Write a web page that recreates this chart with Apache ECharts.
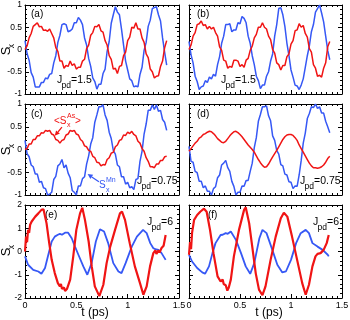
<!DOCTYPE html>
<html>
<head>
<meta charset="utf-8">
<script src="https://cdn.jsdelivr.net/npm/echarts@6/dist/echarts.min.js"></script>
<style>
html, body { margin: 0; padding: 0; background: #fff; }
#main { width: 350px; height: 320px; }
</style>
</head>
<body>
<div id="main"></div>
<script>
// shared time grid (ps) for panels (a)-(d)
var tGrid = [0,0.02,0.04,0.06,0.08,0.10,0.12,0.14,0.16,0.18,0.20,0.22,0.24,0.26,0.28,0.30,0.32,0.34,0.36,0.38,
  0.40,0.42,0.44,0.46,0.48,0.50,0.52,0.54,0.56,0.58,0.60,0.62,0.64,0.66,0.68,0.70,0.72,0.74,0.76,0.78,
  0.80,0.82,0.84,0.86,0.88,0.90,0.92,0.94,0.96,0.98,1.00,1.02,1.04,1.06,1.08,1.10,1.12,1.14,1.16,1.18,
  1.20,1.22,1.24,1.26,1.28,1.30,1.32,1.34,1.36,1.38];

// (a) Jpd = 1.5
var redA = [0,0.08,0.26,0.36,0.52,0.56,0.6,0.51,0.52,0.43,0.44,0.41,0.46,0.36,0.26,0.04,-0.04,-0.26,-0.26,-0.42,
  -0.36,-0.38,-0.26,-0.36,-0.32,-0.44,-0.4,-0.4,-0.26,-0.22,0.02,0.1,0.32,0.38,0.52,0.51,0.56,0.42,0.39,0.2,
  0.1,-0.14,-0.22,-0.44,-0.42,-0.54,-0.38,-0.36,-0.14,-0.06,0.2,0.28,0.5,0.48,0.6,0.46,0.46,0.26,0.16,-0.1,
  -0.18,-0.44,-0.5,-0.64,-0.6,-0.59,-0.38,-0.26,0.04,0.2];
var blueA = [0.2,-0.09,-0.24,-0.52,-0.62,-0.84,-0.84,-0.84,-0.74,-0.74,-0.64,-0.66,-0.56,-0.54,-0.3,-0.14,0.16,0.32,0.56,0.58,
  0.56,0.4,0.42,0.46,0.6,0.6,0.72,0.66,0.56,0.26,0.1,-0.2,-0.38,-0.64,-0.72,-0.89,-0.78,-0.78,-0.54,-0.44,
  -0.04,0.18,0.59,0.78,0.96,0.84,0.78,0.46,0.1,-0.26,-0.46,-0.66,-0.7,-0.84,-0.82,-0.84,-0.56,-0.4,-0.02,0.16,
  0.52,0.66,0.92,0.94,0.96,0.78,0.64,0.26,-0.06,-0.35];

// (b) Jpd = 1.5
var redB = [0,0.1,0.3,0.38,0.56,0.58,0.64,0.54,0.56,0.46,0.52,0.46,0.5,0.38,0.3,0.06,-0.02,-0.24,-0.26,-0.42,
  -0.38,-0.4,-0.24,-0.24,-0.26,-0.38,-0.34,-0.4,-0.24,-0.2,-0.02,0.08,0.26,0.34,0.5,0.5,0.6,0.5,0.46,0.3,
  0.22,0,-0.08,-0.3,-0.34,-0.46,-0.36,-0.36,-0.16,-0.1,0.12,0.2,0.42,0.44,0.58,0.5,0.54,0.36,0.28,0.02,
  -0.06,-0.34,-0.42,-0.6,-0.58,-0.62,-0.42,-0.3,0.06,0.18];
var blueB = [0.18,-0.12,-0.3,-0.6,-0.72,-0.9,-0.84,-0.82,-0.7,-0.74,-0.62,-0.66,-0.56,-0.6,-0.34,-0.16,0.14,0.3,0.56,0.56,
  0.58,0.4,0.44,0.44,0.6,0.58,0.74,0.7,0.6,0.3,0.14,-0.14,-0.34,-0.6,-0.7,-0.88,-0.8,-0.8,-0.6,-0.5,
  -0.26,-0.1,0.3,0.56,0.92,0.94,0.78,0.52,0.14,-0.14,-0.46,-0.62,-0.8,-0.82,-0.9,-0.8,-0.66,-0.4,-0.14,0.08,
  0.4,0.56,0.84,0.92,1.0,0.82,0.62,0.3,-0.02,-0.23];

// (c) Jpd = 0.75
var redC = [0,0.02,0.12,0.12,0.22,0.22,0.3,0.3,0.37,0.36,0.42,0.4,0.42,0.34,0.32,0.22,0.2,0.14,0.2,0.22,
  0.32,0.34,0.42,0.4,0.42,0.34,0.32,0.22,0.18,0.08,0.06,-0.02,-0.04,-0.15,-0.18,-0.28,-0.29,-0.36,-0.33,-0.34,
  -0.22,-0.18,-0.08,-0.06,0.06,0.1,0.2,0.22,0.32,0.31,0.38,0.35,0.4,0.33,0.3,0.18,0.14,0.02,-0.04,-0.18,
  -0.26,-0.38,-0.38,-0.4,-0.32,-0.32,-0.24,-0.24,-0.16,-0.15];
var blueC = [0.2,-0.09,-0.16,-0.34,-0.38,-0.54,-0.54,-0.72,-0.7,-0.84,-0.86,-1.0,-0.98,-0.94,-0.66,-0.59,-0.36,-0.32,-0.22,-0.4,
  -0.34,-0.52,-0.62,-0.9,-0.94,-1.0,-0.8,-0.8,-0.64,-0.6,-0.32,-0.14,0.12,0.26,0.6,0.76,0.94,0.94,0.98,0.76,
  0.64,0.38,0.24,-0.02,-0.1,-0.34,-0.38,-0.6,-0.6,-0.76,-0.72,-0.84,-0.82,-0.88,-0.66,-0.64,-0.26,-0.04,0.34,0.56,
  0.86,0.86,0.98,0.88,0.98,0.84,0.86,0.66,0.6,0.42];

// (d) Jpd = 0.75
var redD = [-0.04,0.02,0.08,0.14,0.18,0.25,0.28,0.33,0.35,0.38,0.4,0.39,0.35,0.3,0.24,0.2,0.16,0.15,0.18,0.24,
  0.3,0.35,0.39,0.4,0.37,0.33,0.28,0.22,0.16,0.1,0.05,0,-0.06,-0.14,-0.22,-0.29,-0.35,-0.39,-0.38,-0.32,
  -0.24,-0.16,-0.09,-0.02,0.06,0.14,0.22,0.28,0.32,0.33,0.33,0.31,0.26,0.2,0.1,0.02,-0.06,-0.14,-0.22,-0.3,
  -0.36,-0.4,-0.4,-0.41,-0.4,-0.38,-0.34,-0.28,-0.2,-0.15];
var blueD = [0.07,-0.26,-0.28,-0.48,-0.51,-0.7,-0.7,-0.84,-0.8,-0.92,-0.92,-1.0,-0.86,-0.82,-0.62,-0.56,-0.34,-0.3,-0.24,-0.4,
  -0.48,-0.7,-0.81,-1.0,-0.94,-0.94,-0.8,-0.81,-0.68,-0.68,-0.48,-0.3,0.04,0.26,0.62,0.77,0.94,0.94,0.96,0.74,
  0.63,0.3,0.2,-0.02,-0.1,-0.33,-0.36,-0.54,-0.56,-0.71,-0.72,-0.86,-0.8,-0.81,-0.56,-0.24,0.14,0.36,0.68,0.79,
  0.94,0.92,1.0,0.9,0.94,0.8,0.8,0.62,0.5,0.37];

// (e) Jpd = 6, [t, Sx]
var redE = [[0,0],[0.01,0.64],[0.02,0.4],[0.03,0.93],[0.04,0.8],[0.05,1.15],[0.065,1.29],[0.08,1.35],[0.1,1.5],[0.13,1.64],
  [0.16,1.79],[0.18,1.82],[0.21,1.21],[0.236,0.36],[0.26,-0.36],[0.29,-0.93],[0.32,-1.36],[0.34,-1.5],[0.35,-1.4],[0.36,-1.6],
  [0.38,-1.55],[0.39,-1.7],[0.41,-1.6],[0.42,-1.68],[0.44,-1.21],[0.47,-0.21],[0.5,0.93],[0.536,1.64],[0.558,1.88],[0.584,1.36],
  [0.62,0.43],[0.65,-0.64],[0.68,-1.5],[0.724,-1.92],[0.763,-1.43],[0.795,-0.5],[0.83,0.21],[0.877,0.93],[0.925,1.64],[0.945,1.72],
  [0.974,1.36],[1.02,0.36],[1.07,-0.64],[1.12,-1.36],[1.153,-1.86],[1.185,-1.5],[1.218,-0.64],[1.25,-0.07],[1.27,0.05],[1.28,-0.1],
  [1.3,0.05],[1.31,-0.05],[1.33,0.15],[1.35,0.25],[1.37,0.71]];
var blueE = [[0,-0.21],[0.03,-0.57],[0.08,-0.79],[0.13,-0.86],[0.16,-0.96],[0.195,-0.71],[0.227,-0.14],[0.26,0.43],[0.29,0.64],[0.32,0.72],
  [0.34,0.76],[0.36,0.72],[0.39,0.81],[0.42,0.81],[0.455,0.57],[0.487,0.21],[0.52,-0.14],[0.568,-0.64],[0.607,-1.0],[0.649,-0.5],
  [0.69,0.43],[0.73,0.96],[0.77,0.86],[0.81,0.36],[0.86,-0.5],[0.91,-0.86],[0.94,-0.93],[0.98,-0.5],[1.04,0.21],[1.09,0.64],
  [1.15,0.93],[1.185,0.79],[1.22,0.36],[1.25,0.14],[1.27,0.1],[1.3,0.07],[1.33,-0.07],[1.37,-0.36]];

// (f) Jpd = 6, [t, Sx]
var redF = [[0,-0.14],[0.01,0.4],[0.02,0.1],[0.03,0.8],[0.05,1.36],[0.08,1.57],[0.11,1.71],[0.147,1.84],[0.173,1.71],[0.206,0.93],
  [0.24,-0.07],[0.28,-1.07],[0.31,-1.29],[0.33,-1.2],[0.34,-1.4],[0.36,-1.45],[0.376,-1.68],[0.39,-1.55],[0.41,-1.21],[0.44,-0.21],
  [0.49,0.93],[0.54,1.79],[0.556,1.9],[0.59,1.21],[0.62,0.21],[0.654,-0.93],[0.686,-1.64],[0.72,-1.88],[0.75,-1.5],[0.8,-0.36],
  [0.85,0.64],[0.9,1.43],[0.93,1.67],[0.964,1.5],[1.01,0.64],[1.06,-0.36],[1.11,-1.36],[1.144,-1.86],[1.176,-1.43],[1.21,-0.64],
  [1.24,-0.21],[1.26,-0.1],[1.29,-0.07],[1.32,0.07],[1.35,0.36],[1.37,0.71]];
var blueF = [[0,-0.14],[0.03,-0.43],[0.08,-0.71],[0.13,-0.9],[0.157,-0.96],[0.196,-0.64],[0.23,-0.07],[0.26,0.36],[0.31,0.71],[0.33,0.72],
  [0.36,0.79],[0.38,0.76],[0.41,0.86],[0.46,0.5],[0.51,-0.07],[0.556,-0.64],[0.6,-0.96],[0.64,-0.5],[0.69,0.57],[0.72,0.93],
  [0.76,0.79],[0.817,0.07],[0.866,-0.57],[0.915,-0.9],[0.95,-0.86],[1.0,-0.36],[1.05,0.36],[1.095,0.79],[1.144,0.93],[1.176,0.79],
  [1.21,0.36],[1.26,0.21],[1.31,0.07],[1.36,-0.14],[1.37,-0.21]];

var RED = '#f01414';
var BLUE = '#3658f5';
var FONT = '"Liberation Sans", Arial, sans-serif';

function onGrid(vals) {
  return tGrid.map(function (t, i) { return [t, vals[i]]; });
}

var panels = [
  { left: 25,  top: 5,   width: 154, height: 89, yMax: 1, yInt: 0.5, red: onGrid(redA), blue: onGrid(blueA), yLab: true,  xLab: false, w: 1.5 },
  { left: 189, top: 5,   width: 153, height: 89, yMax: 1, yInt: 0.5, red: onGrid(redB), blue: onGrid(blueB), yLab: false, xLab: false, w: 1.5 },
  { left: 25,  top: 104, width: 154, height: 91, yMax: 1, yInt: 0.5, red: onGrid(redC), blue: onGrid(blueC), yLab: true,  xLab: false, w: 1.5 },
  { left: 189, top: 104, width: 153, height: 91, yMax: 1, yInt: 0.5, red: onGrid(redD), blue: onGrid(blueD), yLab: false, xLab: false, w: 1.5 },
  { left: 25,  top: 205, width: 154, height: 93, yMax: 2, yInt: 1,   red: redE, blue: blueE, yLab: true,  xLab: true, w: 2.2 },
  { left: 189, top: 205, width: 153, height: 93, yMax: 2, yInt: 1,   red: redF, blue: blueF, yLab: false, xLab: true, w: 2.2 }
];

var grids = [], xAxes = [], yAxes = [], series = [];
var black = { color: '#000', width: 1 };

panels.forEach(function (p, i) {
  grids.push({ left: p.left, top: p.top, width: p.width, height: p.height, containLabel: false, outerBoundsMode: 'none' });
  ['bottom', 'top'].forEach(function (pos) {
    xAxes.push({
      gridIndex: i, type: 'value', position: pos, min: 0, max: 1.5, interval: 0.5,
      axisLine: { show: true, onZero: false, lineStyle: black },
      axisTick: { show: true, inside: true, length: 4, lineStyle: black },
      minorTick: { show: true, splitNumber: 10, length: 2, lineStyle: black },
      splitLine: { show: false },
      axisLabel: { show: pos === 'bottom' && p.xLab, color: '#000', fontSize: 9, fontFamily: FONT, margin: 3,
        showMinLabel: true, showMaxLabel: true }
    });
  });
  ['left', 'right'].forEach(function (pos) {
    yAxes.push({
      gridIndex: i, type: 'value', position: pos, min: -p.yMax, max: p.yMax, interval: p.yInt,
      axisLine: { show: true, onZero: false, lineStyle: black },
      axisTick: { show: true, inside: true, length: 4, lineStyle: black },
      minorTick: { show: true, splitNumber: 5, length: 2, lineStyle: black },
      splitLine: { show: false },
      axisLabel: { show: pos === 'left' && p.yLab, color: '#000', fontSize: 8.5, fontFamily: FONT, margin: 3,
        showMinLabel: true, showMaxLabel: true }
    });
  });
  series.push({
    type: 'line', xAxisIndex: 2 * i, yAxisIndex: 2 * i, data: p.blue, showSymbol: false,
    lineStyle: { color: BLUE, width: p.w === 2.2 ? 1.8 : 1.5 }, itemStyle: { color: BLUE }, silent: true
  });
  series.push({
    type: 'line', xAxisIndex: 2 * i, yAxisIndex: 2 * i, data: p.red, showSymbol: false,
    lineStyle: { color: RED, width: p.w }, itemStyle: { color: RED }, silent: true
  });
});

function txt(x, y, s, size, color, align, rot) {
  return {
    type: 'text', x: x, y: y, silent: true, rotation: rot || 0,
    style: { text: s, fontSize: size, fill: color || '#000', fontFamily: FONT, align: align || 'left', verticalAlign: 'middle' }
  };
}

function jpd(x, y, val) {
  return [
    txt(x, y, 'J', 10.5),
    txt(x + 4.5, y + 6, 'pd', 8.5),
    txt(x + 14, y, '=' + val, 10.5)
  ];
}

// rotated S_x axis title
function sx(y) {
  return [
    txt(6.5, y, 'S', 13, '#000', 'center', Math.PI / 2),
    txt(12, y - 5, 'x', 8.5, '#000', 'center', Math.PI / 2)
  ];
}

var graphics = [
  txt(31, 14, '(a)', 10), txt(197, 14, '(b)', 10),
  txt(31, 114, '(c)', 10), txt(197, 114, '(d)', 10),
  txt(45, 215, '(e)', 10), txt(208, 215, '(f)', 10),
  txt(95, 313, 't (ps)', 12, '#000', 'center'),
  txt(269, 313, 't (ps)', 12, '#000', 'center'),
  // <Sx^As> label (c)
  txt(54, 121, '<S', 10, RED), txt(67, 116, 'As', 7, RED), txt(67, 125, 'x', 7, RED), txt(75, 121, '>', 10, RED),
  // Sx^Mn label (c)
  txt(99, 185, 'S', 10, BLUE), txt(106, 180, 'Mn', 7, BLUE), txt(106, 190, 'x', 7, BLUE)
];
graphics = graphics.concat(
  jpd(57, 80, '1.5'), jpd(221, 80, '1.5'),
  jpd(137, 181, '0.75'), jpd(300, 181, '0.75'),
  jpd(147, 222, '6'), jpd(313, 222, '6'),
  sx(51), sx(151), sx(252)
);

var chart = echarts.init(document.getElementById('main'), null, { renderer: 'canvas' });
chart.setOption({
  animation: false,
  backgroundColor: '#fff',
  grid: grids,
  xAxis: xAxes,
  yAxis: yAxes,
  series: series,
  graphic: graphics
});

// arrows of panel (c), anchored in data coordinates
var arrowDefs = [
  { from: [0.36, 0.49], to: [0.29, 0.30], color: RED },
  { from: [0.72, -0.71], to: [0.61, -0.54], color: BLUE }
];
var arrows = [];
arrowDefs.forEach(function (a) {
  var p0 = chart.convertToPixel({ gridIndex: 2 }, a.from);
  var p1 = chart.convertToPixel({ gridIndex: 2 }, a.to);
  var dx = p1[0] - p0[0], dy = p1[1] - p0[1];
  var len = Math.sqrt(dx * dx + dy * dy);
  var ux = dx / len, uy = dy / len;
  var bx = p1[0] - 5 * ux, by = p1[1] - 5 * uy;
  arrows.push({ type: 'line', silent: true, shape: { x1: p0[0], y1: p0[1], x2: bx, y2: by }, style: { stroke: a.color, lineWidth: 1.2 } });
  arrows.push({ type: 'polygon', silent: true,
    shape: { points: [[p1[0], p1[1]], [bx - 2.5 * uy, by + 2.5 * ux], [bx + 2.5 * uy, by - 2.5 * ux]] },
    style: { fill: a.color } });
});
chart.setOption({ graphic: graphics.concat(arrows) });
</script>
</body>
</html>
